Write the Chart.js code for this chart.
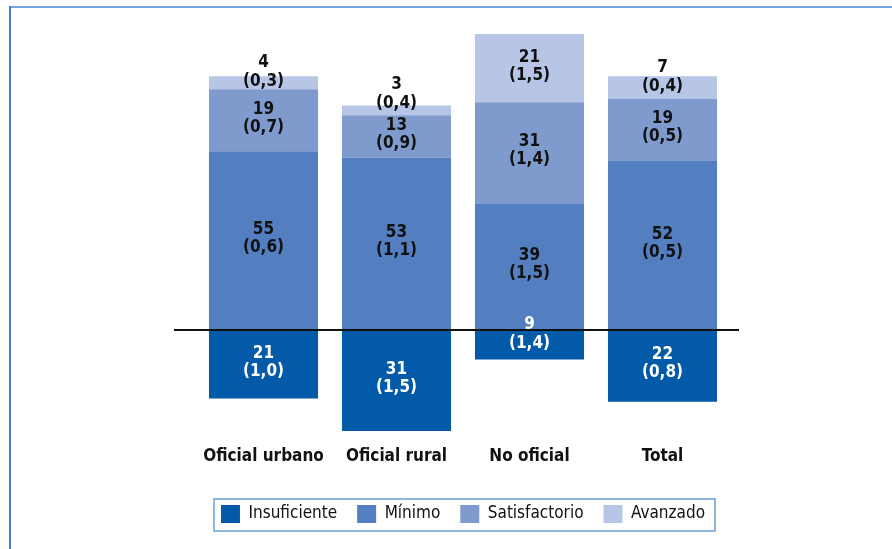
<!DOCTYPE html>
<html>
<head>
<meta charset="utf-8">
<script src="https://cdn.jsdelivr.net/npm/chart.js@4"></script>
<style>
  html, body { margin: 0; padding: 0; background: #fff; }
  #wrap { width: 892px; height: 549px; }
</style>
</head>
<body>
<div id="wrap"><canvas id="nivelesChart" width="892" height="549"></canvas></div>
<script>
const categorias = ["Oficial urbano", "Oficial rural", "No oficial", "Total"];

// Porcentaje de estudiantes por nivel y error estándar (entre paréntesis)
const insuficiente = [21, 31, 9, 22];
const insuficienteEE = [1.0, 1.5, 1.4, 0.8];
const minimo = [55, 53, 39, 52];
const minimoEE = [0.6, 1.1, 1.5, 0.5];
const satisfactorio = [19, 13, 31, 19];
const satisfactorioEE = [0.7, 0.9, 1.4, 0.5];
const avanzado = [4, 3, 21, 7];
const avanzadoEE = [0.3, 0.4, 1.5, 0.4];

const FONT = "'Liberation Sans Narrow', 'DejaVu Sans Condensed', 'Roboto', sans-serif";

function coma(v) {
    return "(" + v.toFixed(1).replace(".", ",") + ")";
}

// Etiquetas de dos líneas: porcentaje y error estándar
const etiquetas = {
    id: "etiquetas",
    afterDatasetsDraw(chart) {
        const ctx = chart.ctx;
        ctx.save();
        ctx.font = "bold 17px " + FONT;
        ctx.textAlign = "center";
        ctx.textBaseline = "middle";
        const prevTop = {};
        chart.data.datasets.forEach((ds, i) => {
            const meta = chart.getDatasetMeta(i);
            meta.data.forEach((bar, j) => {
                const top = Math.min(bar.y, bar.base);
                const bottom = Math.max(bar.y, bar.base);
                const h = bottom - top;
                const mid = (top + bottom) / 2;
                let y1, y2;
                if (h < 40) {
                    y2 = mid - 1;
                    // que no se monte sobre la etiqueta del segmento inferior
                    if (ds.data[j] > 0 && prevTop[j] !== undefined && y2 > prevTop[j] - 22) {
                        y2 = prevTop[j] - 22;
                    }
                    y1 = y2 - 19;
                } else {
                    y1 = mid - 11;
                    y2 = mid + 7;
                }
                if (ds.data[j] > 0) prevTop[j] = y1;
                ctx.fillStyle = ds.textColor;
                ctx.fillText(String(Math.abs(ds.data[j])), bar.x, y1);
                ctx.fillText(coma(ds.ee[j]), bar.x, y2);
            });
        });
        ctx.restore();
    }
};

// Línea del cero, marco exterior y recuadro de la leyenda
const adornos = {
    id: "adornos",
    afterDraw(chart) {
        const ctx = chart.ctx;
        const area = chart.chartArea;
        const y0 = chart.scales.y.getPixelForValue(0);
        ctx.save();
        ctx.strokeStyle = "#111";
        ctx.lineWidth = 2;
        ctx.beginPath();
        ctx.moveTo(area.left - 23, y0);
        ctx.lineTo(area.right + 10, y0);
        ctx.stroke();

        ctx.lineWidth = 2;
        ctx.strokeStyle = "#74a7d9";
        ctx.beginPath();
        ctx.moveTo(9, 7);
        ctx.lineTo(892, 7);
        ctx.stroke();
        ctx.strokeStyle = "#4f82c4";
        ctx.beginPath();
        ctx.moveTo(10, 6);
        ctx.lineTo(10, 549);
        ctx.stroke();

        const boxes = chart.legend.legendHitBoxes;
        if (boxes && boxes.length) {
            const l = Math.min(...boxes.map(b => b.left)) - 7;
            const r = Math.max(...boxes.map(b => b.left + b.width)) + 10;
            const t = Math.min(...boxes.map(b => b.top)) - 6;
            const b = Math.max(...boxes.map(b => b.top + b.height)) + 8;
            ctx.lineWidth = 1.5;
            ctx.strokeStyle = "#6a9fd6";
            ctx.strokeRect(l, t, r - l, b - t);
        }
        ctx.restore();
    }
};

new Chart(document.getElementById("nivelesChart").getContext("2d"), {
    type: "bar",
    data: {
        labels: categorias,
        datasets: [
            { label: "Insuficiente", data: insuficiente.map(v => -v), ee: insuficienteEE, backgroundColor: "#035aa8", textColor: "#ffffff" },
            { label: "Mínimo", data: minimo, ee: minimoEE, backgroundColor: "#537ebf", textColor: "#111111" },
            { label: "Satisfactorio", data: satisfactorio, ee: satisfactorioEE, backgroundColor: "#7f9bcd", textColor: "#111111" },
            { label: "Avanzado", data: avanzado, ee: avanzadoEE, backgroundColor: "#b7c5e6", textColor: "#111111" }
        ]
    },
    options: {
        responsive: false,
        animation: false,
        layout: { padding: { left: 197, right: 163, top: 21, bottom: 16 } },
        datasets: { bar: { categoryPercentage: 1, barPercentage: 0.82, borderWidth: 0 } },
        scales: {
            x: {
                stacked: true,
                grid: { display: false, drawTicks: false },
                border: { display: false },
                ticks: { color: "#111", font: { family: FONT, size: 17, weight: "bold" }, padding: 2 },
                afterFit(scale) { scale.height = 41; }
            },
            y: {
                stacked: true,
                display: false,
                min: -35,
                max: 95
            }
        },
        plugins: {
            tooltip: { enabled: false },
            legend: {
                position: "bottom",
                labels: {
                    boxWidth: 19,
                    boxHeight: 18,
                    padding: 20,
                    color: "#111",
                    font: { family: FONT, size: 17 }
                }
            }
        }
    },
    plugins: [etiquetas, adornos]
});
</script>
</body>
</html>
